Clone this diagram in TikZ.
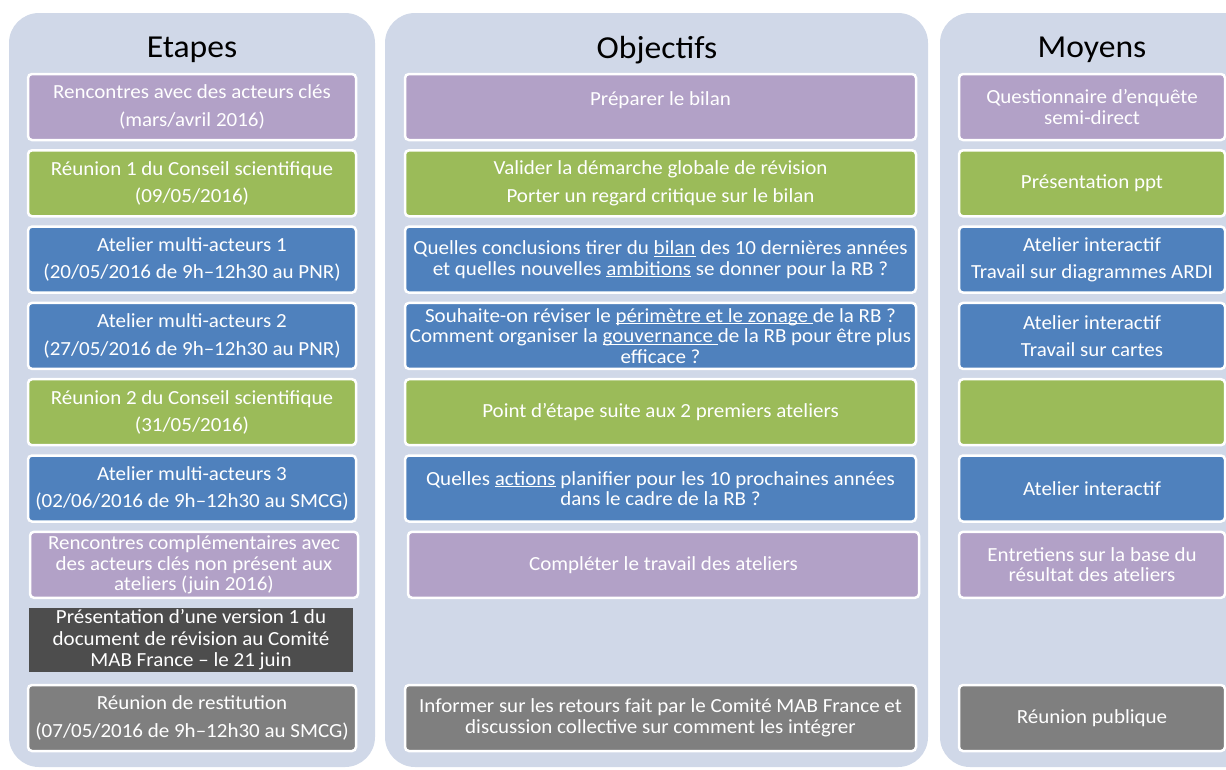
\documentclass[tikz,border=0pt]{standalone}
\usepackage{fontspec}
\setmainfont{Carlito}[FakeStretch=1.05]
\usepackage{xcolor}
\usetikzlibrary{positioning}

\definecolor{panelbg}{HTML}{D0D8E8}
\definecolor{lilac}{HTML}{B2A1C7}
\definecolor{olive}{HTML}{9BBB59}
\definecolor{steel}{HTML}{4F81BD}
\definecolor{slate}{HTML}{4D4D4D}
\definecolor{midgray}{HTML}{7F7F7F}

\newcommand{\ulword}[1]{\underline{\smash{#1}}}

\begin{document}
\begin{tikzpicture}[
  x=1pt, y=-1pt,
  box/.style={rectangle, rounded corners=4pt, fill=#1, draw=white,
              line width=2.5pt, text=white, align=center, outer sep=0pt,
              inner sep=1pt, minimum height=66pt,
              font=\fontsize{20}{20.5}\selectfont},
  ebox/.style={box=#1, minimum width=328pt},
  obox/.style={box=#1, minimum width=511pt},
  mbox/.style={box=#1, minimum width=266pt},
  panel/.style={fill=panelbg, rounded corners=30pt},
  coltitle/.style={font=\fontsize{32}{36}\selectfont, text=black},
]
\useasboundingbox (0,0) rectangle (1226,769);
\clip (0,0) rectangle (1226,769);

%% ---------- Panels ----------------------------------------------
\fill[panel] (9,13)   rectangle (375,767);
\fill[panel] (385,13) rectangle (928,767);
\fill[panel] (940,13) rectangle (1290,767);

\node[coltitle] (etitle) at (192,50)  {Etapes};
\node[coltitle] (otitle) at (657,50)  {Objectifs};
\node[coltitle] (mtitle) at (1092,50) {Moyens};

%% ---------- Etapes ----------------------------------------------
\node[ebox=lilac] (e1) at (192,107)
      {Rencontres avec des acteurs clés\\[7pt](mars/avril 2016)};
\node[ebox=olive, below=10.3pt of e1] (e2)
      {Réunion 1 du Conseil scientifique\\[7pt](09/05/2016)};
\node[ebox=steel, below=10.3pt of e2] (e3)
      {Atelier multi-acteurs 1\\[7pt](20/05/2016 de 9h–12h30 au PNR)};
\node[ebox=steel, below=10.3pt of e3] (e4)
      {Atelier multi-acteurs 2\\[7pt](27/05/2016 de 9h–12h30 au PNR)};
\node[ebox=olive, below=10.3pt of e4] (e5)
      {Réunion 2 du Conseil scientifique\\[7pt](31/05/2016)};
\node[ebox=steel, below=10.3pt of e5] (e6)
      {Atelier multi-acteurs 3\\[7pt](02/06/2016 de 9h–12h30 au SMCG)};
\node[ebox=lilac, below=10.3pt of e6, xshift=2pt] (e7)
      {Rencontres complémentaires avec\\des acteurs clés non présent aux\\ateliers (juin 2016)};
\node[box=slate, draw=none, rounded corners=0pt, minimum width=324pt,
      minimum height=64pt, below=10pt of e7, xshift=-3pt] (e8)
      {Présentation d’une version 1 du\\[1pt]document de révision au Comité\\[1pt]MAB France – le 21 juin};
\node[ebox=midgray] (e9) at (192,718)
      {Réunion de restitution\\[7pt](07/05/2016 de 9h–12h30 au SMCG)};

%% ---------- Objectifs -------------------------------------------
\node[obox=lilac, right=49pt of e1] (o1) {\strut Préparer le bilan\\[-10pt]\strut};
\node[obox=olive, right=49pt of e2] (o2)
      {Valider la démarche globale de révision\\[7pt]Porter un regard critique sur le bilan};
\node[obox=steel, right=49pt of e3] (o3)
      {Quelles conclusions tirer du \ulword{bilan} des 10 dernières années\\et quelles nouvelles \ulword{ambitions} se donner pour la RB ?};
\node[obox=steel, right=49pt of e4] (o4)
      {Souhaite-on réviser le \ulword{périmètre et le zonage }de la RB ?\\Comment organiser la \ulword{gouvernance }de la RB pour être plus\\efficace ?};
\node[obox=olive, right=49pt of e5] (o5) {Point d’étape suite aux 2 premiers ateliers};
\node[obox=steel, right=49pt of e6] (o6)
      {Quelles \ulword{actions} planifier pour les 10 prochaines années\\dans le cadre de la RB ?};
\node[obox=lilac, right=49pt of e6, yshift=-76.3pt, xshift=3pt] (o7)
      {Compléter le travail des ateliers};
\node[obox=midgray, right=49pt of e9] (o9)
      {Informer sur les retours fait par le Comité MAB France et\\discussion collective sur comment les intégrer};

%% ---------- Moyens ----------------------------------------------
\node[mbox=lilac, right=43pt of o1] (m1) {Questionnaire d’enquête\\semi-direct};
\node[mbox=olive, right=43pt of o2] (m2) {Présentation ppt};
\node[mbox=steel, right=43pt of o3] (m3)
      {Atelier interactif\\[7pt]Travail sur diagrammes ARDI};
\node[mbox=steel, right=43pt of o4] (m4)
      {Atelier interactif\\[7pt]Travail sur cartes};
\node[mbox=olive, right=43pt of o5] (m5) {};
\node[mbox=steel, right=43pt of o6] (m6) {Atelier interactif};
\node[mbox=lilac, right=40pt of o7] (m7)
      {Entretiens sur la base du\\résultat des ateliers};
\node[mbox=midgray, right=43pt of o9] (m9) {Réunion publique};
\end{tikzpicture}
\end{document}
